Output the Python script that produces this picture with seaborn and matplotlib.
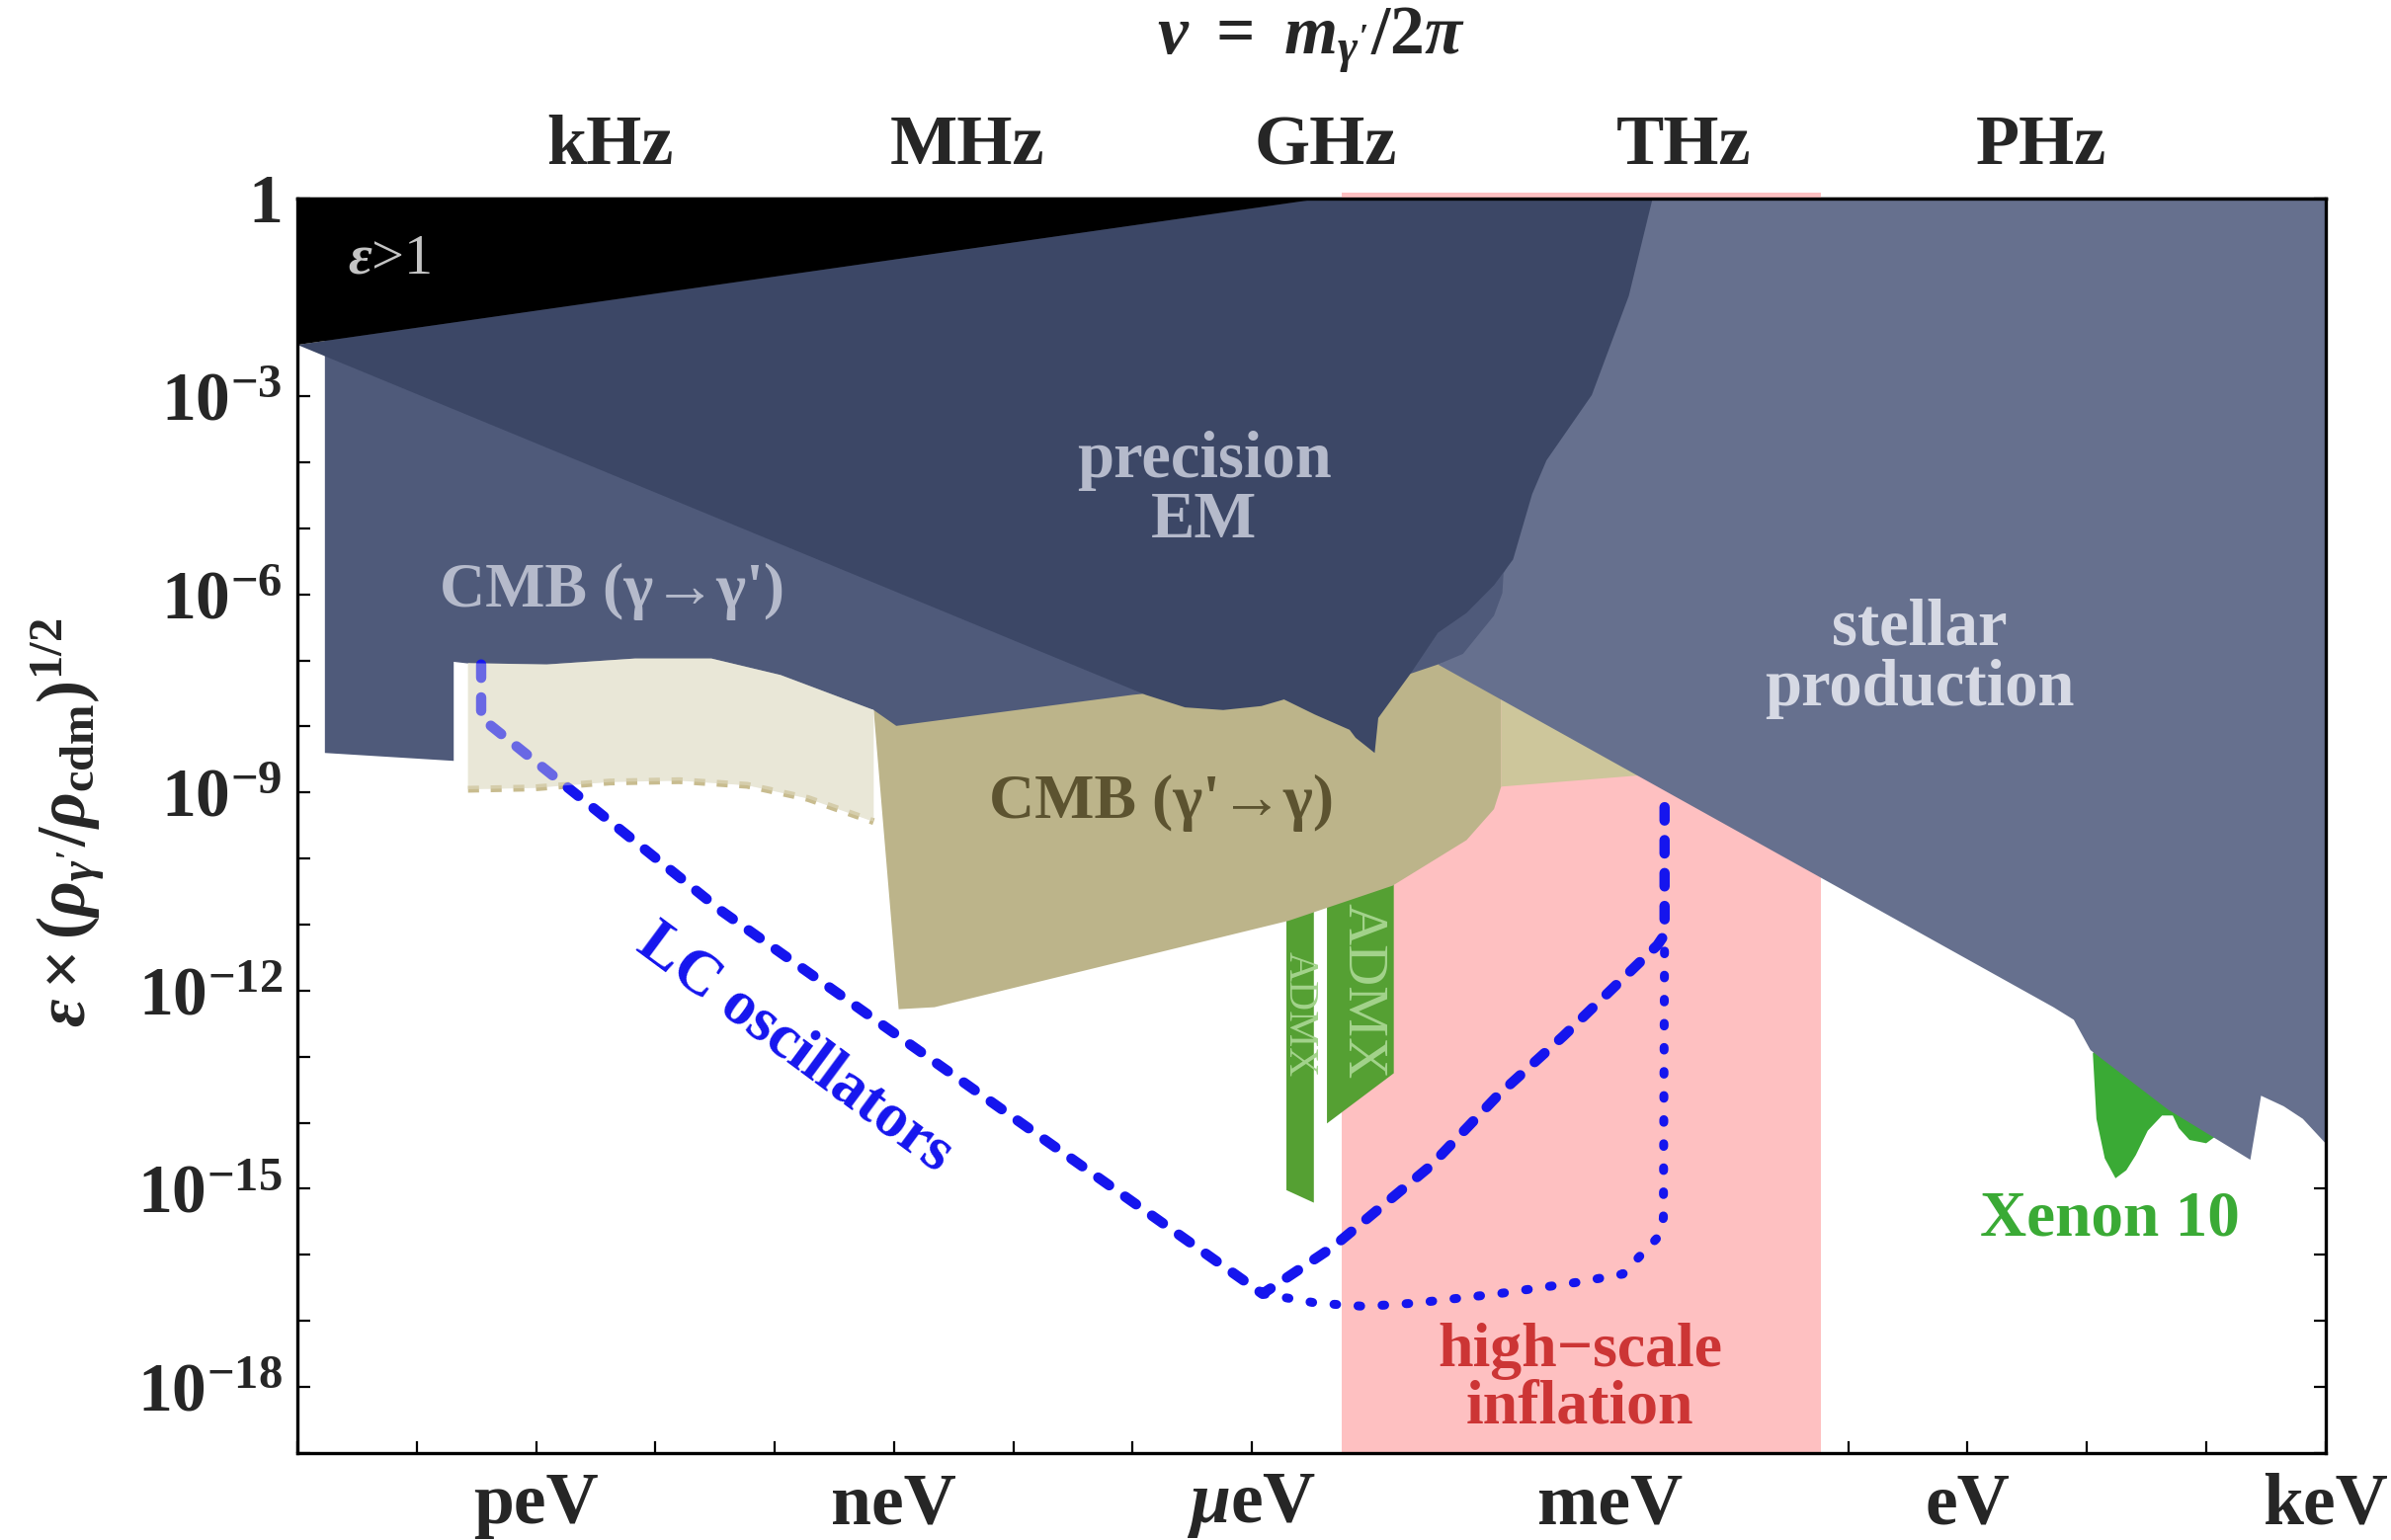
import numpy as np
import matplotlib
matplotlib.use("Agg")
import matplotlib.pyplot as plt
from matplotlib.ticker import NullLocator
import seaborn as sns

# -----------------------------
# Data (log10 of mass in eV, log10 of epsilon)
# -----------------------------
eps1_x = [-14.0, -5.40, -14.0]
eps1_y = [0.0, 0.0, -2.22]

precision_x = [-14.0, -5.40, -2.64, -2.84, -3.15, -3.53, -3.65, -3.81, -3.97, -4.20, -4.44,
               -4.67, -4.94, -4.97, -5.13, -5.18, -5.47, -5.73, -5.92, -6.24, -6.56, -6.89]
precision_y = [-2.22, 0.0, 0.0, -1.48, -2.98, -3.97, -4.48, -5.47, -5.86, -6.28, -6.58,
               -7.20, -7.87, -8.40, -8.17, -8.05, -7.82, -7.59, -7.69, -7.75, -7.71, -7.52]

cmb_gg_x = [-13.77, -13.77, -12.69, -12.69, -9.17, -8.98, -7.00, -6.28, -5.00, -4.67, -4.44, -3.72, -2.45]
cmb_gg_y = [0.0, -8.40, -8.52, -7.02, -7.75, -7.99, -7.52, -7.39, -7.39, -7.20, -7.06, -6.69, 0.0]

stellar_x = [-2.96, 3.0, 3.0, 2.81, 2.65, 2.46, 2.37, 1.68, 1.03, 0.89, 0.72,
             -4.44, -4.23, -3.97, -3.90, -3.89, -3.84, -3.98, -3.72]
stellar_y = [0.0, 0.0, -14.31, -13.94, -13.75, -13.59, -14.56, -13.80, -12.90, -12.44, -12.25,
             -7.06, -6.90, -6.32, -5.98, -5.68, -5.52, -4.85, -2.98]

cmb_dm_x = [-9.17, -9.17, -8.96, -8.66, -5.69, -4.82, -4.20, -3.97, -3.91, -3.91]
cmb_dm_y = [-6.85, -7.75, -12.28, -12.25, -10.94, -10.41, -9.72, -9.25, -8.91, -6.92]

cmb_dm_light_x = [-3.91, -3.91, -2.82, -2.45, -2.45]
cmb_dm_light_y = [-7.48, -8.91, -8.75, -8.70, -7.48]

cmb_ext_top_x = [-12.57, -11.91, -11.17, -10.53, -9.95, -9.17]
cmb_ext_top_y = [-7.04, -7.06, -6.97, -6.97, -7.22, -7.75]
cmb_ext_low_x = [-12.57, -12.02, -11.38, -10.80, -10.23, -9.72, -9.17]
cmb_ext_low_y = [-8.95, -8.93, -8.84, -8.82, -8.89, -9.09, -9.44]

admx1_x = [-5.71, -5.48, -5.48, -5.71]
admx1_y = [-10.62, -10.62, -15.21, -15.02]
admx2_x = [-5.37, -4.81, -4.81, -5.37]
admx2_y = [-10.27, -10.27, -13.25, -14.01]

xenon_x = [1.05, 1.08, 1.15, 1.24, 1.33, 1.41, 1.51, 1.63, 1.72, 1.77, 1.86, 2.00, 2.09, 1.89, 1.13]
xenon_y = [-12.95, -13.94, -14.54, -14.84, -14.72, -14.49, -14.12, -13.89, -13.89, -14.08,
           -14.26, -14.31, -14.19, -13.15, -12.69]

inflation_x = [-5.25, -1.23]

lc_dash_x = [-12.46, -12.46, -10.44, -5.91, -5.32, -4.50, -3.94, -3.39, -2.60, -2.54, -2.54]
lc_dash_y = [-7.06, -7.87, -10.80, -16.59, -15.88, -14.65, -13.59, -12.69, -11.31, -11.15, -8.93]
lc_dot_x = [-5.91, -5.68, -5.46, -5.05, -4.63, -3.94, -3.25, -2.89, -2.60, -2.55, -2.54]
lc_dot_y = [-16.59, -16.66, -16.73, -16.78, -16.73, -16.59, -16.41, -16.29, -15.74, -15.44, -11.15]

mass_ticks = list(range(-14, 4))
mass_labels = {-12: "peV", -9: "neV", -6: r"$\mu$eV", -3: "meV", 0: "eV", 3: "keV"}
freq_ticks = list(range(1, 18))
freq_labels = {3: "kHz", 6: "MHz", 9: "GHz", 12: "THz", 15: "PHz"}
eps_ticks = list(range(-19, 1))
eps_labels = {0: "1", -3: r"$10^{-3}$", -6: r"$10^{-6}$", -9: r"$10^{-9}$",
              -12: r"$10^{-12}$", -15: r"$10^{-15}$", -18: r"$10^{-18}$"}

H_EV_S = 4.135667e-15

# -----------------------------
# Style
# -----------------------------
sns.set_theme(style="ticks")
plt.rcParams["font.family"] = ["Liberation Serif", "DejaVu Serif"]
plt.rcParams["mathtext.fontset"] = "custom"
plt.rcParams["mathtext.rm"] = "Liberation Serif:bold"
plt.rcParams["mathtext.it"] = "Liberation Serif:italic:bold"
plt.rcParams["mathtext.bf"] = "Liberation Serif:bold"
plt.rcParams["mathtext.fallback"] = "stix"

C_BLACK = "#000000"
C_NAVY = "#3c4766"
C_CMB = "#4f5a7a"
C_STELLAR = "#66708e"
C_KHAKI = "#bcb48a"
C_KHAKI_LIGHT = "#cdc69b"
C_BEIGE = "#e9e7d7"
C_PINK = "#fec0c1"
C_ADMX = "#55a033"
C_XENON = "#3aaa35"
C_BLUE = "#1515ee"

fig = plt.figure(figsize=(24.2, 15.59), dpi=100)
ax = fig.add_axes([0.1244, 0.0565, 0.8482, 0.8148])
ax.set_xscale("log")
ax.set_yscale("log")
ax.set_xlim(1e-14, 1e3)
ax.set_ylim(1e-19, 1e0)


def fill_log(xs, ys, color, **kw):
    ax.fill(10.0 ** np.asarray(xs), 10.0 ** np.asarray(ys), color=color, lw=0, **kw)


def line_log(xs, ys, color, width, dashes, cap):
    sns.lineplot(x=10.0 ** np.asarray(xs), y=10.0 ** np.asarray(ys),
                 sort=False, estimator=None, color=color, ax=ax)
    ln = ax.lines[-1]
    ln.set_linewidth(width)
    ln.set_dashes(dashes)
    ln.set_dash_capstyle(cap)


# -----------------------------
# Regions
# -----------------------------
ax.fill_between(10.0 ** np.asarray(inflation_x), 1e-19, 10 ** 0.08, color=C_PINK, lw=0, clip_on=False)
fill_log(admx1_x, admx1_y, C_ADMX)
fill_log(admx2_x, admx2_y, C_ADMX)
fill_log(xenon_x, xenon_y, C_XENON)
fill_log(cmb_dm_x, cmb_dm_y, C_KHAKI)
fill_log(cmb_dm_light_x, cmb_dm_light_y, C_KHAKI_LIGHT)
fill_log(cmb_gg_x, cmb_gg_y, C_CMB)
beige_x = cmb_ext_top_x + cmb_ext_low_x[::-1]
beige_y = cmb_ext_top_y + cmb_ext_low_y[::-1]
fill_log(beige_x, beige_y, C_BEIGE)
fill_log(stellar_x, stellar_y, C_STELLAR)
fill_log(precision_x, precision_y, C_NAVY)
fill_log(eps1_x, eps1_y, C_BLACK)

# dotted edge of the CMB extension
line_log(cmb_ext_low_x, cmb_ext_low_y, "#c8bc8f", 5.0, (1.6, 1.7), "butt")

# LC oscillators
line_log(lc_dash_x, lc_dash_y, C_BLUE, 7.5, (1.3, 1.9), "round")
line_log(lc_dot_x, lc_dot_y, C_BLUE, 6.5, (0.3, 2.4), "round")

# veil of the light CMB band over the start of the LC line
fill_log(beige_x, beige_y, C_BEIGE, alpha=0.4, zorder=3)

# -----------------------------
# Labels in the plot
# -----------------------------
def label(xl, yl, s, color, size, **kw):
    ax.text(10.0 ** xl, 10.0 ** yl, s, color=color, fontsize=size, ha="center", va="center",
            fontweight="bold", zorder=5, **kw)


ax.text(10.0 ** -13.23, 10.0 ** -0.92, r"$ε$>1", color="#c4c4c4", fontsize=42,
        ha="center", va="center", zorder=5)
label(-6.40, -4.43, "precision\nEM", "#b5bacb", 48, linespacing=1.0)
label(-11.36, -5.95, "CMB (γ→γ')", "#b5bacb", 46)
label(-0.40, -6.97, "stellar\nproduction", "#d6d9e4", 48, linespacing=1.0)
label(-6.76, -9.16, "CMB (γ'→γ)", "#5c5330", 46)
label(1.19, -15.46, "Xenon 10", C_XENON, 47)
label(-3.25, -17.89, "high−scale\ninflation", "#cc3535", 46, linespacing=1.0)
label(-9.83, -12.88, "LC oscillators", C_BLUE, 46, rotation=-36.5, rotation_mode="anchor")
ax.text(10.0 ** -5.08, 10.0 ** -12.0, "ADMX", color="#a3d38c", fontsize=42, rotation=-90,
        ha="center", va="center", zorder=5)
ax.text(10.0 ** -5.60, 10.0 ** -12.35, "ADMX", color="#a3d38c", fontsize=30, rotation=-90,
        ha="center", va="center", zorder=5)

# -----------------------------
# Axes, ticks
# -----------------------------
ax.set_xticks([10.0 ** t for t in mass_ticks], labels=[mass_labels.get(t, "") for t in mass_ticks])
ax.set_yticks([10.0 ** t for t in eps_ticks], labels=[eps_labels.get(t, "") for t in eps_ticks])
ax.xaxis.set_minor_locator(NullLocator())
ax.yaxis.set_minor_locator(NullLocator())
ax.tick_params(axis="both", which="major", direction="in", length=9, width=1.6, color="black",
               top=False, right=True, labelsize=53)
ax.tick_params(axis="x", pad=14)
ax.tick_params(axis="y", pad=11, labelsize=50)
for t in ax.get_xticklabels() + ax.get_yticklabels():
    t.set_fontweight("bold")

sec = ax.secondary_xaxis("top", functions=(lambda m: m / H_EV_S, lambda f: f * H_EV_S))
sec.set_xticks([10.0 ** t for t in freq_ticks], labels=[freq_labels.get(t, "") for t in freq_ticks])
sec.xaxis.set_minor_locator(NullLocator())
sec.tick_params(axis="x", direction="in", length=9, width=1.6, pad=14, labelsize=52)
for t in sec.get_xticklabels():
    t.set_fontweight("bold")

for sp in list(ax.spines.values()) + list(sec.spines.values()):
    sp.set_linewidth(2.4)
    sp.set_color("black")
    sp.set_zorder(10)

fig.text(0.5482, 0.974, r"$\nu\ =\ m_{\gamma'}/2\pi$", fontsize=50, ha="center", va="center")
fig.text(0.0285, 0.466, r"$ε\times(\rho_{\gamma'}/\rho_{\rm cdm})^{1/2}$", fontsize=50,
         rotation=90, ha="center", va="center")

fig.savefig("out.png", dpi=100)
